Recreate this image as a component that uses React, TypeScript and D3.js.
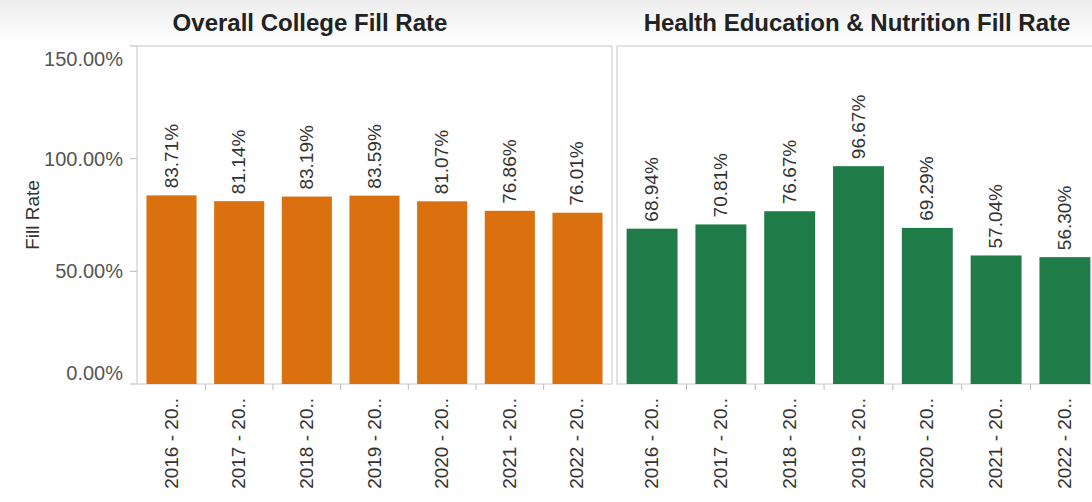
import React from "react";
import * as d3 from "d3";

const years = ["2016 - 20..", "2017 - 20..", "2018 - 20..", "2019 - 20..", "2020 - 20..", "2021 - 20..", "2022 - 20.."];
const collegeValues = [83.71, 81.14, 83.19, 83.59, 81.07, 76.86, 76.01];
const hesValues = [68.94, 70.81, 76.67, 96.67, 69.29, 57.04, 56.3];
const yTicks = [0, 50, 100, 150];
const panelTitles = ["Overall College Fill Rate", "Health Education & Nutrition Fill Rate"];
const panelColors = ["#DA700E", "#1F7B47"];

const W = 1092, H = 502;
const top = 46, bottom = 384;
const panels = [
  { x0: 137, x1: 612, values: collegeValues, titleX: 310 },
  { x0: 617, x1: 1100, values: hesValues, titleX: 857 },
];

export default function App() {
  const y = d3.scaleLinear().domain([0, 150]).range([bottom, top]);
  const font = "'Liberation Sans', Arial, sans-serif";
  const labelY = (t: number) => {
    const base = y(t) + 7;
    // keep the end labels inside the plot area, as the original does
    return Math.min(Math.max(base, top + 20), bottom - 4);
  };
  return (
    <svg width={W} height={H} style={{ position: "absolute", left: 0, top: 0, background: "#fff" }} fontFamily={font}>
      <defs>
        <linearGradient id="hdr" x1="0" y1="0" x2="0" y2="1">
          <stop offset="0" stopColor="#ededed" />
          <stop offset="1" stopColor="#ffffff" />
        </linearGradient>
      </defs>
      <rect x={0} y={0} width={W} height={44} fill="url(#hdr)" />
      <text transform={`translate(39,${(top + bottom) / 2}) rotate(-90)`} textAnchor="middle" fontSize={19} fill="#333">Fill Rate</text>
      {yTicks.map((t) => (
        <g key={t}>
          <text x={123} y={labelY(t)} textAnchor="end" fontSize={20} fill="#555">{t.toFixed(2)}%</text>
          <line x1={130} x2={137} y1={y(t)} y2={y(t)} stroke="#bbb" />
        </g>
      ))}
      {panels.map((p, pi) => {
        const x = d3.scaleBand<string>().domain(years).range([p.x0, p.x1]).paddingInner(0.26).paddingOuter(0.14);
        const step = x.step();
        return (
          <g key={pi}>
            <text x={p.titleX} y={31} textAnchor="middle" fontSize={24} fontWeight="bold" fill="#222">{panelTitles[pi]}</text>
            <rect x={p.x0} y={top} width={p.x1 - p.x0} height={bottom - top} fill="none" stroke="#c8c8c8" />
            {years.map((yr, i) => {
              const bx = x(yr)!;
              const bw = x.bandwidth();
              const v = p.values[i];
              const cx = bx + bw / 2;
              const bandStart = bx - step * 0.13;
              return (
                <g key={yr}>
                  <rect x={bx} y={y(v)} width={bw} height={bottom - y(v)} fill={panelColors[pi]} />
                  <text transform={`translate(${cx + 6},${y(v) - 7}) rotate(-90)`} fontSize={19} fill="#333">{v.toFixed(2)}%</text>
                  <text transform={`translate(${cx + 6},${bottom + 14}) rotate(-90)`} textAnchor="end" fontSize={19} fill="#333">{yr}</text>
                  {i > 0 && <line x1={bandStart} x2={bandStart} y1={bottom} y2={bottom + 6} stroke="#bbb" />}
                </g>
              );
            })}
          </g>
        );
      })}
    </svg>
  );
}
